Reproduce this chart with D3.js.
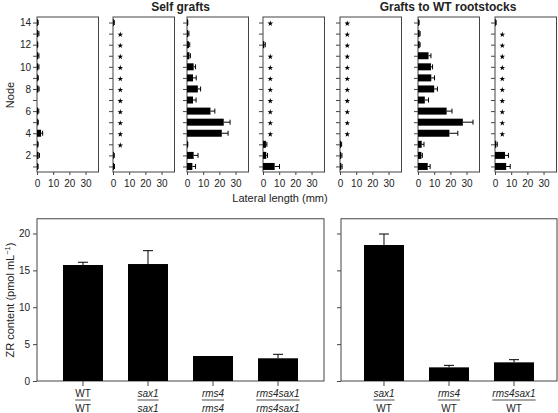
<!DOCTYPE html>
<html><head><meta charset="utf-8">
<script src="https://cdn.jsdelivr.net/npm/d3@7"></script>
<style>
body{margin:0;background:#fff}
text{font-family:"Liberation Sans",Arial,sans-serif;fill:#222}
</style>
</head><body>
<svg id="c" width="558" height="413"></svg>
<script>
// ---------- DATA ----------
const nodes = [1,2,3,4,5,6,7,8,9,10,11,12,13,14];
// lateral length (mm) for nodes 1..14; null = no lateral (marked *)
const selfWT        = [0.4,1.0,0.4,2.5,0.5,0.7,0,0.9,0.5,0.8,0.8,0.3,0.8,0.4];
const selfWTErr     = [0.3,0.5,0.3,1.0,0.3,0.4,0,0.4,0.3,0.4,0.4,0.2,0.4,0.3];
const selfSax1      = [0.6,0.5,null,null,null,null,null,null,null,null,null,null,null,0.5];
const selfSax1Err   = [0.3,0.3,0,0,0,0,0,0,0,0,0,0,0,0.3];
const selfRms4      = [3.3,4.1,0.3,21.5,22.7,14.5,3.7,6.7,3.7,4.1,1.5,1.2,0.8,0.3];
const selfRms4Err   = [2.0,2.7,0.2,3.9,3.9,2.7,1.9,1.7,2.0,1.2,0.6,0.5,0.4,0.2];
const selfDbl       = [7.2,2.0,1.8,null,null,null,null,null,null,null,null,0.8,0,null];
const selfDblErr    = [3.0,0.8,0.6,0,0,0,0,0,0,0,0,0.6,0,0];
const wtSax1        = [0.8,0.7,0.6,null,null,null,null,null,null,null,null,null,null,null];
const wtSax1Err     = [0.5,0.5,0.4,0,0,0,0,0,0,0,0,0,0,0];
const wtRms4        = [6.0,2.1,2.3,19.4,27.7,17.7,4.2,10.0,8.2,8.0,6.5,1.0,1.0,0.5];
const wtRms4Err     = [1.5,0.6,1.4,5.2,6.3,3.3,2.3,2.0,2.0,1.0,1.5,0.3,0.3,0.2];
const wtDbl         = [6.9,6.2,0.8,null,null,null,null,null,null,null,null,null,null,0.5];
const wtDblErr      = [2.5,2.1,0.6,0,0,0,0,0,0,0,0,0,0,0.2];
const lengthTicks = [0,10,20,30];
const nodeLabels = [2,4,6,8,10,12,14];

// ZR content
const selfGenos = [["WT","WT"],["sax1","sax1"],["rms4","rms4"],["rms4sax1","rms4sax1"]];
const selfZR    = [15.73,15.86,3.39,3.08];
const selfZRErr = [0.37,1.81,0,0.54];
const wtGenos   = [["sax1","WT"],["rms4","WT"],["rms4sax1","WT"]];
const wtZR      = [18.44,1.85,2.53];
const wtZRErr   = [1.49,0.27,0.36];
const zrTicks   = [0,5,10,15,20];

// ---------- LAYOUT ----------
const svg = d3.select("#c");
const panels = [
  {v:selfWT,e:selfWTErr},{v:selfSax1,e:selfSax1Err},{v:selfRms4,e:selfRms4Err},{v:selfDbl,e:selfDblErr},
  {v:wtSax1,e:wtSax1Err},{v:wtRms4,e:wtRms4Err},{v:wtDbl,e:wtDblErr}
];
const panelX = [37,113,187,263,340,418,495];
const panelW = 61.5, topY = 17, botY = 172;
const axisCol = "#444";

const y = d3.scaleLinear().domain([0.5,14.5]).range([botY, topY]);

panels.forEach((p,i) => {
  const g = svg.append("g");
  const x = d3.scaleLinear().domain([0,38]).range([panelX[i], panelX[i]+panelW]);
  g.append("rect").attr("x",x(0)).attr("y",topY).attr("width",panelW).attr("height",botY-topY)
    .attr("fill","none").attr("stroke",axisCol).attr("stroke-width",1);
  // y ticks
  const ya = d3.axisLeft(y).tickValues(nodes).tickSize(4).tickSizeOuter(0)
    .tickFormat(d => (i===0 && nodeLabels.includes(d)) ? d : "");
  const yg = g.append("g").attr("transform",`translate(${x(0)},0)`).call(ya);
  yg.select(".domain").remove();
  yg.selectAll("line").attr("stroke",axisCol);
  yg.selectAll("text").attr("font-size",10).attr("x",-6);
  // x ticks
  const xa = d3.axisBottom(x).tickValues(lengthTicks).tickSize(3).tickSizeOuter(0);
  const xg = g.append("g").attr("transform",`translate(0,${botY})`).call(xa);
  xg.select(".domain").remove();
  xg.selectAll("line").attr("stroke",axisCol);
  xg.selectAll("text").attr("font-size",10).attr("dy","0.9em");
  // bars
  const data = nodes.map((n,k)=>({n, v:p.v[k], e:p.e[k]}));
  const bars = data.filter(d => d.v !== null && d.v > 0);
  g.selectAll(".bar").data(bars).join("rect")
    .attr("x",x(0)).attr("y",d=>y(d.n)-3.5).attr("width",d=>Math.max(0.8,x(d.v)-x(0))).attr("height",7)
    .attr("fill","#000");
  g.selectAll(".eb").data(bars.filter(d=>d.e>0)).join("line")
    .attr("x1",d=>x(d.v)).attr("x2",d=>x(d.v+d.e)).attr("y1",d=>y(d.n)).attr("y2",d=>y(d.n))
    .attr("stroke","#000").attr("stroke-width",1);
  g.selectAll(".ec").data(bars.filter(d=>d.e>0)).join("line")
    .attr("x1",d=>x(d.v+d.e)).attr("x2",d=>x(d.v+d.e)).attr("y1",d=>y(d.n)-2.5).attr("y2",d=>y(d.n)+2.5)
    .attr("stroke","#000").attr("stroke-width",1);
  // stars
  g.selectAll(".star").data(data.filter(d=>d.v===null)).join("path")
    .attr("d", d3.symbol(d3.symbolStar, 10))
    .attr("transform", d=>`translate(${x(4.5)},${y(d.n)+1})`).attr("fill","#000");
});

svg.append("text").attr("x",(37+324)/2).attr("y",11).attr("text-anchor","middle")
  .attr("font-size",12).attr("font-weight","bold").text("Self grafts");
svg.append("text").attr("x",(340+556)/2).attr("y",11).attr("text-anchor","middle")
  .attr("font-size",12).attr("font-weight","bold").text("Grafts to WT rootstocks");
svg.append("text").attr("transform","translate(14,95) rotate(-90)").attr("text-anchor","middle")
  .attr("font-size",11).text("Node");
svg.append("text").attr("x",280).attr("y",202).attr("text-anchor","middle")
  .attr("font-size",11).text("Lateral length (mm)");

// ---------- BOTTOM CHARTS ----------
const zy = d3.scaleLinear().domain([0,22]).range([381, 218.75]);
function barChart(x0, x1, genos, vals, errs, labels, padOuter) {
  const g = svg.append("g");
  const keys = genos.map(d=>d.join("/"));
  const x = d3.scaleBand().domain(keys).range([x0,x1]).paddingInner(0.385).paddingOuter(padOuter);
  g.append("rect").attr("x",x0).attr("y",zy(22)).attr("width",x1-x0).attr("height",zy(0)-zy(22))
    .attr("fill","none").attr("stroke",axisCol);
  const ya = d3.axisLeft(zy).tickValues(zrTicks).tickSize(4).tickSizeOuter(0)
    .tickFormat(labels ? d3.format("d") : () => "");
  const yg = g.append("g").attr("transform",`translate(${x0},0)`).call(ya);
  yg.select(".domain").remove();
  yg.selectAll("line").attr("stroke",axisCol);
  yg.selectAll("text").attr("font-size",10).attr("x",-7);
  const data = keys.map((k,i)=>({k, g:genos[i], v:vals[i], e:errs[i]}));
  g.selectAll(".b").data(data).join("rect")
    .attr("x",d=>x(d.k)).attr("width",x.bandwidth()).attr("y",d=>zy(d.v)).attr("height",d=>zy(0)-zy(d.v))
    .attr("fill","#000");
  const cx = d => x(d.k)+x.bandwidth()/2;
  const eb = data.filter(d=>d.e>0);
  g.selectAll(".e").data(eb).join("line")
    .attr("x1",cx).attr("x2",cx).attr("y1",d=>zy(d.v)).attr("y2",d=>zy(d.v+d.e)).attr("stroke","#000");
  g.selectAll(".c").data(eb).join("line")
    .attr("x1",d=>cx(d)-5).attr("x2",d=>cx(d)+5).attr("y1",d=>zy(d.v+d.e)).attr("y2",d=>zy(d.v+d.e)).attr("stroke","#000");
  // x ticks and two-line labels
  data.forEach(d => {
    const c = cx(d);
    g.append("line").attr("x1",c).attr("x2",c).attr("y1",381).attr("y2",386).attr("stroke",axisCol);
    const t1 = g.append("text").attr("x",c).attr("y",397).attr("text-anchor","middle").attr("font-size",10)
      .attr("font-style", d.g[0]==="WT"?"normal":"italic").text(d.g[0]);
    const t2 = g.append("text").attr("x",c).attr("y",411.5).attr("text-anchor","middle").attr("font-size",10)
      .attr("font-style", d.g[1]==="WT"?"normal":"italic").text(d.g[1]);
    const w = Math.max(t1.node().getComputedTextLength(), t2.node().getComputedTextLength());
    g.append("line").attr("x1",c-w/2).attr("x2",c+w/2).attr("y1",400).attr("y2",400)
      .attr("stroke","#222").attr("stroke-width",0.8);
  });
}
barChart(37, 324, selfGenos, selfZR, selfZRErr, true, 0.4);
barChart(341, 557, wtGenos, wtZR, wtZRErr, false, 0.354);

const yt = svg.append("text").attr("transform","translate(14,300) rotate(-90)").attr("text-anchor","middle")
  .attr("font-size",11);
yt.append("tspan").text("ZR content (pmol mL");
yt.append("tspan").attr("font-size",7.5).attr("dy",-4).text("−1");
yt.append("tspan").attr("dy",4).text(")");
</script>
</body></html>
